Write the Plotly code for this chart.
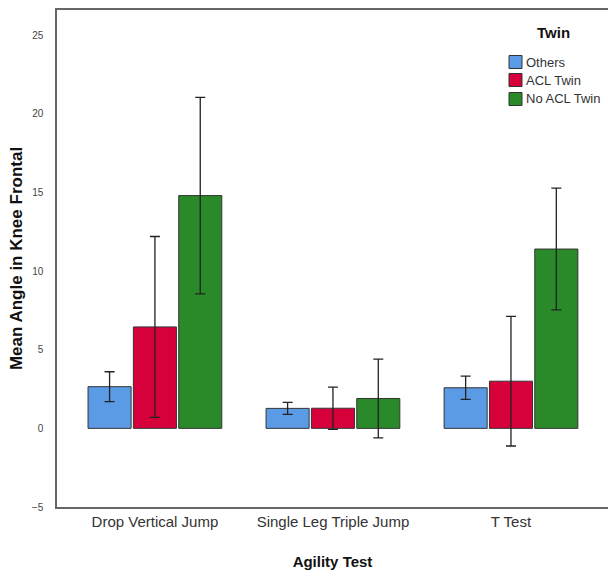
import plotly.graph_objects as go

categories = ["Drop Vertical Jump", "Single Leg Triple Jump", "T Test"]
groups = ["Others", "ACL Twin", "No ACL Twin"]
means = {
    "Others": [2.65, 1.27, 2.58],
    "ACL Twin": [6.45, 1.28, 3.0],
    "No ACL Twin": [14.8, 1.9, 11.4],
}
errors = {
    "Others": [0.95, 0.38, 0.74],
    "ACL Twin": [5.75, 1.34, 4.12],
    "No ACL Twin": [6.25, 2.5, 3.87],
}
colors = {"Others": "#5B9BE6", "ACL Twin": "#D6003A", "No ACL Twin": "#2A8A2A"}
legend_title = "Twin"

FONT = "Liberation Sans, Arial, sans-serif"

W, H = 608, 576
ML, MR, MT, MB = 57, 0, 10, 69
PW, PH = W - ML - MR, H - MT - MB


def px_x(px):
    return (px - ML) / PW


def px_y(py):
    return (H - MB - py) / PH


fig = go.Figure()
for g in groups:
    fig.add_trace(go.Bar(
        name=g, x=categories, y=means[g],
        marker=dict(color=colors[g], line=dict(color="#333333", width=1)),
        error_y=dict(type="data", array=errors[g], visible=True,
                     color="#222222", thickness=1.3, width=5),
        showlegend=False,
    ))

# manual legend (SPSS style)
shapes = []
annotations = [dict(
    text="<b>" + legend_title + "</b>", xref="paper", yref="paper",
    x=px_x(553), y=px_y(33), xanchor="center", yanchor="middle",
    showarrow=False, font=dict(size=15, color="#111111", family=FONT),
)]
row_y = [62, 80, 99]
for g, ry in zip(groups, row_y):
    shapes.append(dict(
        type="rect", xref="paper", yref="paper",
        x0=px_x(509), x1=px_x(522), y0=px_y(ry + 6.5), y1=px_y(ry - 6.5),
        fillcolor=colors[g], line=dict(color="#333333", width=1),
    ))
    annotations.append(dict(
        text=g, xref="paper", yref="paper", x=px_x(524), y=px_y(ry),
        xanchor="left", yanchor="middle", showarrow=False,
        font=dict(size=13, color="#333333", family=FONT),
    ))

fig.update_layout(
    width=W, height=H,
    margin=dict(l=ML, r=MR, t=MT, b=MB, autoexpand=False),
    paper_bgcolor="white", plot_bgcolor="white",
    barmode="group", bargap=0.236, bargroupgap=0.05,
    font=dict(family=FONT, color="#333333"),
    showlegend=False,
    shapes=shapes, annotations=annotations,
    xaxis=dict(
        range=[-0.55, 2.545], showline=True, linecolor="#666666", linewidth=1.5,
        mirror=True, ticks="", tickfont=dict(size=15, color="#333333"),
        showgrid=False,
        title=dict(text="<b>Agility Test</b>", font=dict(size=15, color="#111111"), standoff=28),
    ),
    yaxis=dict(
        range=[-5, 26.6], tickvals=[-5, 0, 5, 10, 15, 20, 25],
        showline=True, linecolor="#666666", linewidth=1.5,
        ticks="", tickfont=dict(size=10, color="#444444"), ticklabelstandoff=10,
        showgrid=False, zeroline=False,
        title=dict(text="<b>Mean Angle in Knee Frontal</b>", font=dict(size=17, color="#111111"), standoff=5),
    ),
)

fig.write_html("out.html")
